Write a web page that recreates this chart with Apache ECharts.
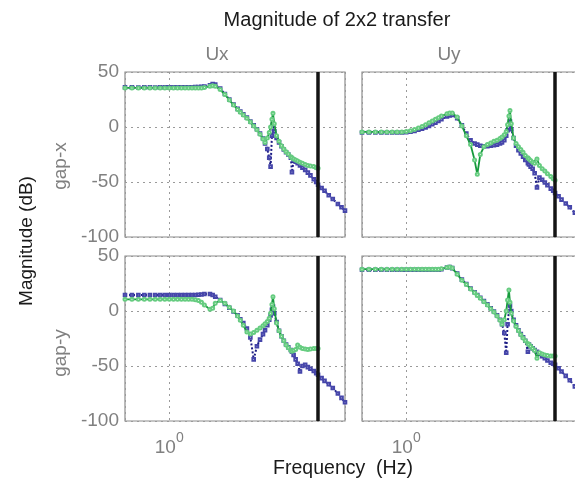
<!DOCTYPE html>
<html>
<head>
<meta charset="utf-8">
<title>Magnitude of 2x2 transfer</title>
<script src="https://cdn.jsdelivr.net/npm/echarts@6/dist/echarts.min.js"></script>
<style>html,body{margin:0;padding:0;background:#fff;}</style>
</head>
<body>
<div id="main" style="width:575px;height:479px;"></div>
<script type="text/javascript">
// frequency points (Hz), shared by all panels
var freq = [0.6,0.65,0.7,0.75,0.8,0.85,0.9,0.95,1.0,1.05,1.1,1.15,1.2,1.25,1.3,1.35,1.4,1.45,1.5,
    1.6,1.65,1.7,1.8,1.9,2.0,2.1,2.2,2.27,2.35,2.45,2.55,2.65,2.75,2.85,2.95,
    3.02,3.1,3.17,3.22,3.27,3.31,3.36,3.45,3.55,3.65,3.75,3.85,3.95,
    4.07,4.12,4.2,4.3,4.4,4.52,4.65,4.8,4.95,5.1,5.3,5.45,5.57,
    5.8,6.0,6.3,6.6,7.0,7.3,7.6];

// magnitudes in dB. blue = model (whole range), green = measured (up to the black line)
var blueXUx = [36,36,35.9,36,36,35.9,36,36,36,36.1,36,36,36.1,36.2,36.2,36.3,36.4,36.5,36.8,
    38,39,38.5,35,30,25,20.5,16.5,14,11.5,8.5,5,1.5,-2,-6,-10.5,
    -15,-20,-28,-36,-8,2,-4,-10,-14,-17.5,-20.5,-23,-25,
    -28,-41,-30,-31.5,-33,-35,-37,-39,-41.5,-44,-47.5,-50,-52.5,
    -55.5,-58,-62,-65.5,-70,-73,-76];
var greenXUx = [35.5,35.5,35.5,35.5,35.5,35.5,35.5,35.5,35.5,35.5,35.5,35.5,35.5,35.5,35.5,35.5,35.5,35.5,36,
    37,37.5,37,34,29.5,24.5,20,16,13.5,11,8,4.5,1,-2.5,-6.5,-11,
    -14,-10,-5,0,7,12.5,3,-8,-13,-17,-20,-22.5,-24.5,
    -27,-28,-29,-30,-31,-32,-33,-34,-35,-35.5,-36,-37,-37.5];

var blueXUy = [-5,-5,-5,-5,-5,-5,-5,-5,-4.8,-4.3,-3.6,-2.5,-1.5,-0.3,1,2.5,4,5.5,7,
    9.5,10.5,11,8,1.5,-6,-12,-15,-16,-17,-17.5,-17.5,-17,-16.5,-16,-15,
    -14,-12,-8,-3,2,5,-2,-10,-17,-21,-24,-27,-30,
    -33,-34,-36,-38,-42,-55,-46,-48,-50.5,-53,-56,-58,-60,
    -63,-66,-69.5,-73,-78,-81,-84];
var greenXUy = [-4.5,-4.5,-4.5,-4.5,-4.5,-4.5,-4.5,-4.5,-4,-3.3,-2.3,-1,0.5,2,3.8,5.5,7,8.5,10,
    12,12.8,12.8,9,1,-8,-16,-30,-43,-25,-18,-16,-14.5,-13,-12,-10.5,
    -9,-7,-4,2,10,15,3,-10,-15,-18,-20.5,-23,-26,
    -28,-29,-30.5,-32,-33,-29,-35,-38,-40,-42.5,-45,-47,-48.5];

var blueYUx = [14.5,14.5,14.5,14.5,14.5,14.5,14.5,14.5,14.5,14.5,14.5,14.5,14.5,14.5,14.5,14.5,14.8,15,15.5,
    15.5,14.5,13,10,6.5,3,-0.5,-4,-7.5,-11,-16,-24,-44,-32,-26,-21,
    -17.5,-13,-8,-4,1,4,-2,-10,-18,-23,-27,-30.5,-33,
    -35.5,-37,-40,-44,-48,-55,-50,-49,-51,-52.5,-54.5,-56.5,-58,
    -61,-63.5,-66.5,-70,-75,-79,-83];
var greenYUx = [10.6,10.6,10.6,10.6,10.6,10.6,10.6,10.6,10.6,10.6,10.6,10.6,10.6,10.6,10.6,10.3,9.5,8,5.5,
    1.5,2.5,7,9.5,7,3.5,0,-4.5,-8.5,-13,-19,-21,-19.5,-17.5,-15.5,-13.5,
    -11.5,-9.5,-6.5,-2,6,13,2,-11,-18,-23,-27,-31,-33.5,
    -36,-36.5,-36,-35,-31,-33,-34,-34.5,-35,-34.5,-34,-34,-34];

var blueYUy = [37.5,37.5,37.5,37.5,37.5,37.5,37.5,37.5,37.5,37.5,37.5,37.5,37.5,37.5,37.5,37.5,37.5,37.5,38,
    39.5,40,39,34,28.5,24.5,20.5,17,14.5,12,9,6,2.5,-0.5,-4,-8,
    -12,-20,-38,-12,0,5,0,-8,-13,-17.5,-21,-24,-27,
    -37,-30.5,-32,-34,-35.5,-37,-39,-41,-43,-45,-47,-48,-49,
    -52,-55,-59,-63,-68.5,-71.5,-74];
var greenYUy = [38,38,38,38,38,38,38,38,38,38,38,38,38,38,38,38,38,38,38.5,
    39.5,40,39,33.5,28,24,20,16.5,14,11.5,8.5,5.5,2,-1,-4.5,-8.5,
    -12,-8,0,10,19,8,-2,-9,-14,-18,-21.5,-24.5,-27,
    -29.5,-30.5,-32,-34,-36,-43,-38,-39,-40,-40.5,-41,-41,-41];

var rowNames = ['gap-x', 'gap-y'];
var colNames = ['Ux', 'Uy'];
var markFreq = 5.57;   // black vertical marker
var freqMin = 0.6, freqMax = 7.6;

var blueSets = [blueXUx, blueXUy, blueYUx, blueYUy];
var greenSets = [greenXUx, greenXUy, greenYUx, greenYUy];

var font = "'Liberation Sans', Arial, sans-serif";
var myChart = echarts.init(document.getElementById('main'));

function pairs(vals) {
    var out = [];
    for (var i = 0; i < vals.length; i++) out.push([freq[i], vals[i]]);
    return out;
}

var gridLeft = [125, 362], gridTop = [72, 256];
var grids = [], xAxes = [], yAxes = [], series = [];

for (var k = 0; k < 4; k++) {
    var row = Math.floor(k / 2), col = k % 2;
    grids.push({
        left: gridLeft[col], top: gridTop[row], width: 220, height: 165,
        show: true, borderColor: '#8c8c8c', borderWidth: 1.2,
        outerBoundsMode: 'none'
    });
    xAxes.push({
        gridIndex: k, type: 'log', logBase: 10, min: freqMin, max: freqMax,
        axisLine: {show: false}, axisTick: {show: false},
        axisLabel: {
            show: row === 1, margin: 10, color: '#808080',
            formatter: function (v) { return Math.abs(v - 1) < 1e-6 ? '{b|10}{s|0}' : ''; },
            rich: {
                b: {fontSize: 19, fontFamily: font, color: '#808080', lineHeight: 34},
                s: {fontSize: 14, fontFamily: font, color: '#808080', verticalAlign: 'top'}
            }
        },
        splitLine: {show: true, lineStyle: {color: '#9a9a9a', type: [2, 4], width: 1}}
    });
    yAxes.push({
        gridIndex: k, type: 'value', min: -100, max: 50, interval: 50,
        axisLine: {show: false}, axisTick: {show: false},
        axisLabel: {show: col === 0, margin: 6, fontSize: 19, fontFamily: font, color: '#808080'},
        splitLine: {show: true, lineStyle: {color: '#9a9a9a', type: [2, 4], width: 1}}
    });
    series.push({
        type: 'line', xAxisIndex: k, yAxisIndex: k, data: pairs(blueSets[k]),
        symbol: 'emptyRect', symbolSize: 2.6, showAllSymbol: true,
        lineStyle: {color: '#1c1c84', width: 2, type: 'dotted'},
        itemStyle: {color: '#4646aa', borderWidth: 1},
        animation: false, z: 2
    });
    series.push({
        type: 'line', xAxisIndex: k, yAxisIndex: k, data: pairs(greenSets[k]),
        symbol: 'emptyCircle', symbolSize: 3, showAllSymbol: true,
        lineStyle: {color: '#169a3c', width: 1.8},
        itemStyle: {color: '#66cc80', borderWidth: 1},
        animation: false, z: 3,
        markLine: {
            silent: true, symbol: 'none', label: {show: false}, animation: false,
            lineStyle: {color: '#141414', width: 3.5, type: 'solid'},
            data: [{xAxis: markFreq}]
        }
    });
}

function label(text, x, y, size, color, rot) {
    return {
        type: 'text', x: x, y: y, rotation: rot || 0, z: 10,
        style: {text: text, fill: color, font: size + 'px ' + font,
                textAlign: 'center', textVerticalAlign: 'middle'}
    };
}

option = {
    backgroundColor: '#ffffff',
    animation: false,
    grid: grids,
    xAxis: xAxes,
    yAxis: yAxes,
    series: series,
    graphic: [
        label('Magnitude of 2x2 transfer', 337, 20, 20, '#1a1a1a'),
        label(colNames[0], 217, 55, 19, '#808080'),
        label(colNames[1], 449, 55, 19, '#808080'),
        label(rowNames[0], 61, 166, 19, '#808080', Math.PI / 2),
        label(rowNames[1], 61, 353, 19, '#808080', Math.PI / 2),
        label('Magnitude (dB)', 27, 241, 19, '#1a1a1a', Math.PI / 2),
        label('Frequency  (Hz)', 343, 469, 19.5, '#1a1a1a')
    ]
};
myChart.setOption(option);
</script>
</body>
</html>
